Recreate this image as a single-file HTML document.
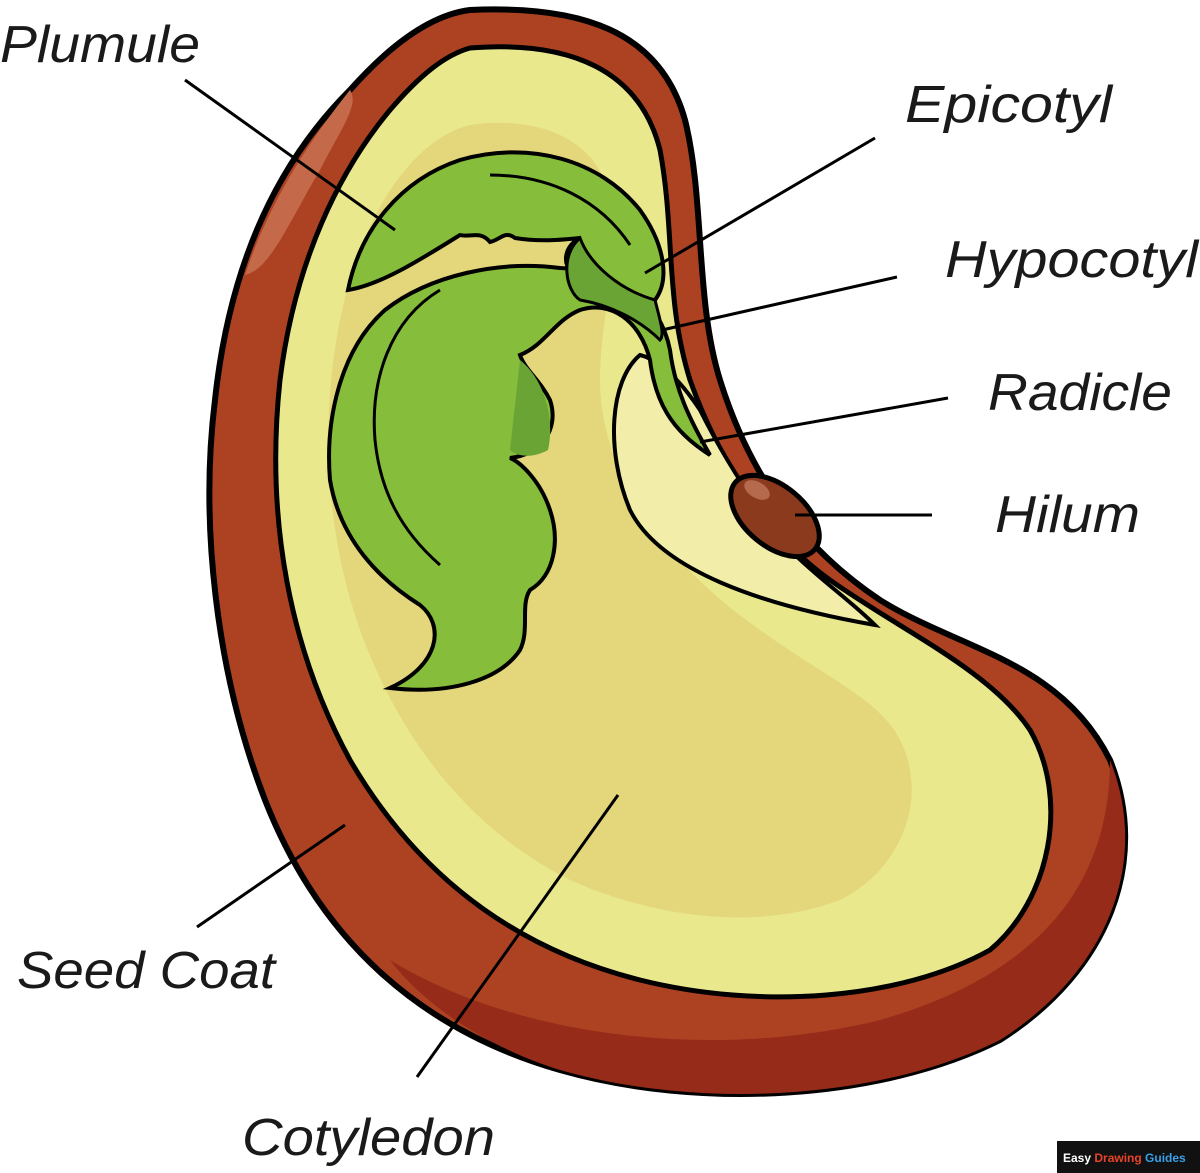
<!DOCTYPE html>
<html><head><meta charset="utf-8"><style>
html,body{margin:0;padding:0;background:#fff;}
svg{display:block;}
text{font-family:"Liberation Sans",sans-serif;font-style:italic;fill:#1a1a1a;}
</style></head><body>
<svg width="1200" height="1173" viewBox="0 0 1200 1173" xmlns="http://www.w3.org/2000/svg">
<path d="M470,10 C580,5 660,30 685,120 C705,200 695,300 720,380 C745,460 790,540 880,600 C960,650 1060,660 1110,760 C1150,860 1110,970 1000,1040 C880,1100 700,1110 560,1070 C420,1030 320,940 265,800 C215,670 200,520 215,400 C230,260 280,160 350,90 C390,45 430,15 470,10 Z" fill="#ad4222" stroke="#000" stroke-width="6"/>
<path d="M1110,760 C1150,860 1110,970 1000,1040 C880,1100 700,1110 560,1070 C480,1045 420,1000 390,960 C520,1040 720,1060 880,1020 C1020,980 1110,900 1110,760 Z" fill="#962b19"/>
<path d="M350,90 C310,140 270,200 245,275 C270,270 290,220 320,170 C340,130 360,105 350,90 Z" fill="#c46a4a"/>
<path d="M470,48 C570,40 640,70 660,150 C675,230 665,300 690,380 C715,450 760,530 830,580 C900,630 990,670 1030,730 C1070,800 1050,900 990,950 C900,1000 760,1010 640,980 C520,950 420,880 350,760 C290,650 265,520 280,380 C295,260 340,170 390,110 C420,75 445,55 470,48 Z" fill="#eae88d" stroke="#000" stroke-width="5"/>
<path d="M470,125 C540,115 600,140 610,200 C620,260 600,320 600,380 C600,470 660,560 760,630 C830,680 880,700 900,740 C930,800 900,870 840,900 C760,930 660,920 570,880 C470,830 400,740 360,630 C325,530 320,420 340,320 C360,220 410,140 470,125 Z" fill="#e3d67b"/>
<path d="M640,355 C610,380 605,450 630,510 C660,570 760,605 875,625 C850,600 820,580 790,550 C750,500 720,450 700,410 C680,380 660,360 640,355 Z" fill="#f2eeaa" stroke="#000" stroke-width="4"/>
<path d="M560,268 C500,260 430,275 385,310 C340,350 325,420 330,480 C340,540 380,580 420,605 C445,625 440,665 390,688 C450,695 500,680 520,650 C530,630 520,605 530,590 C555,575 560,540 550,510 C540,480 520,462 510,458 C540,455 560,430 550,400 C540,380 525,370 520,355 C545,345 555,320 580,310 C610,300 640,320 650,360 C655,400 670,430 710,455 C690,420 675,390 670,350 C660,300 620,270 560,268 Z" fill="#86bd3b" stroke="#000" stroke-width="4"/>
<path d="M440,290 C390,320 370,380 375,440 C380,490 400,530 440,565" fill="none" stroke="#000" stroke-width="3"/>
<path d="M520,360 C545,380 555,420 548,450 C530,460 515,455 510,450 Z" fill="#6aa435"/>
<path d="M348,290 C360,230 400,180 460,160 C530,140 600,160 640,210 C665,245 670,280 655,300 C620,300 590,290 575,275 C560,265 565,245 580,238 C560,240 540,242 515,238 C505,230 500,240 490,242 C480,230 470,238 460,235 C420,260 380,285 348,290 Z" fill="#86bd3b" stroke="#000" stroke-width="4"/>
<path d="M490,175 C550,175 600,200 630,245" fill="none" stroke="#000" stroke-width="3"/>
<path d="M580,238 C590,265 620,290 655,300 C660,320 665,335 660,340 C640,320 610,305 580,300 C565,290 560,255 580,238 Z" fill="#6aa435" stroke="#000" stroke-width="3"/>
<ellipse cx="775" cy="516" rx="52" ry="30" transform="rotate(40 775 516)" fill="#8b3a1e" stroke="#000" stroke-width="5"/>
<ellipse cx="757" cy="490" rx="14" ry="8" transform="rotate(30 757 490)" fill="#b5694d"/>
<g stroke="#000" stroke-width="3">
<line x1="185" y1="80" x2="395" y2="230"/>
<line x1="875" y1="138" x2="645" y2="273"/>
<line x1="897" y1="277" x2="662" y2="330"/>
<line x1="948" y1="398" x2="700" y2="442"/>
<line x1="932" y1="515" x2="795" y2="515"/>
<line x1="197" y1="927" x2="345" y2="825"/>
<line x1="417" y1="1077" x2="618" y2="795"/>
</g>
<g font-size="52">
<text x="0" y="62" textLength="200" lengthAdjust="spacingAndGlyphs">Plumule</text>
<text x="905" y="122" textLength="207" lengthAdjust="spacingAndGlyphs">Epicotyl</text>
<text x="945" y="277" textLength="253" lengthAdjust="spacingAndGlyphs">Hypocotyl</text>
<text x="988" y="410" textLength="184" lengthAdjust="spacingAndGlyphs">Radicle</text>
<text x="995" y="532" textLength="145" lengthAdjust="spacingAndGlyphs">Hilum</text>
<text x="17" y="988" textLength="258" lengthAdjust="spacingAndGlyphs">Seed Coat</text>
<text x="242" y="1155" textLength="253" lengthAdjust="spacingAndGlyphs">Cotyledon</text>
</g>
<rect x="1057" y="1141" width="143" height="32" fill="#111"/>
<text x="1063" y="1162" font-size="12" font-weight="bold" style="font-style:normal"><tspan fill="#fff">Easy </tspan><tspan fill="#e8432a">Drawing </tspan><tspan fill="#3aa0e8">Guides</tspan></text>
</svg>
</body></html>
